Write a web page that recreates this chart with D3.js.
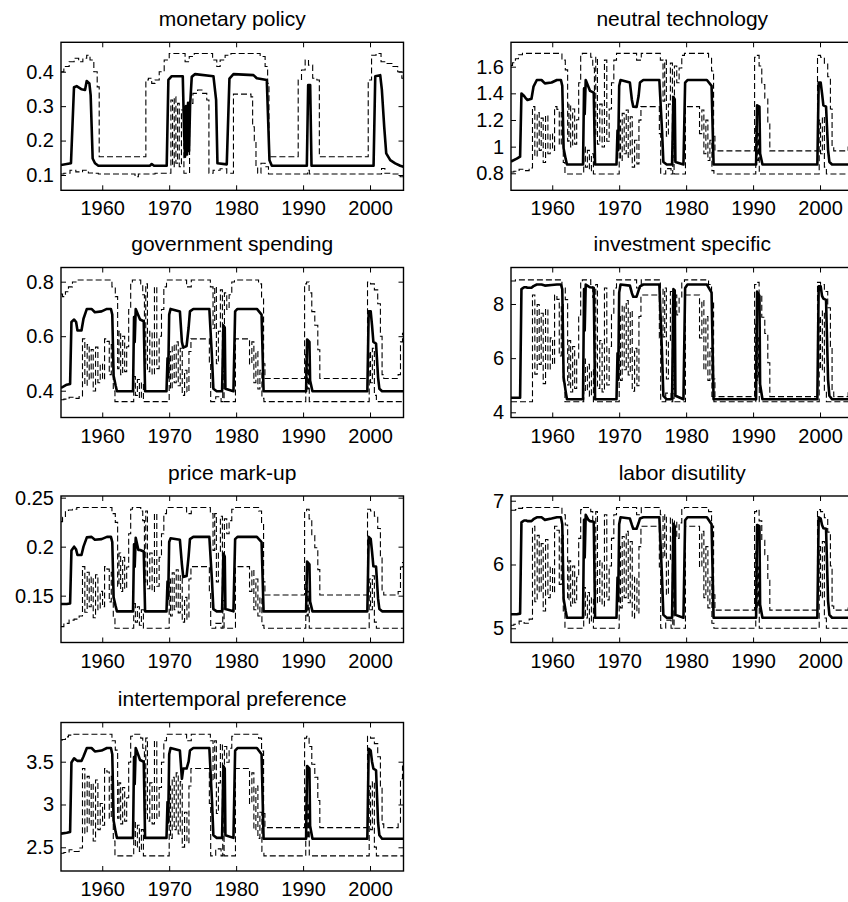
<!DOCTYPE html>
<html>
<head>
<meta charset="utf-8">
<script src="https://cdn.jsdelivr.net/npm/d3@7"></script>
<style>
  body { margin: 0; background: #fff; }
  svg text { font-family: Arial, "Liberation Sans", sans-serif; fill: #000; }
</style>
</head>
<body>
<svg id="chart" width="848" height="902"></svg>
<script>
// ---- data ----
var yearTicks = [1960, 1970, 1980, 1990, 2000];
var yearRange = [1953.84, 2005.0];

var monTicks = [0.1, 0.2, 0.3, 0.4];
var techTicks = [0.8, 1, 1.2, 1.4, 1.6];
var govTicks = [0.4, 0.6, 0.8];
var invTicks = [4, 6, 8];
var markTicks = [0.15, 0.2, 0.25];
var laborTicks = [5, 6, 7];
var prefTicks = [2.5, 3, 3.5];

// monetary policy has its own timing: [year, value]
var monMedian = [
  [1953.84,0.129],[1955.33,0.134],[1955.78,0.355],[1956.18,0.358],[1956.93,0.349],[1957.43,0.347],[1957.68,0.373],[1958.08,0.366],[1958.27,0.332],[1958.57,0.148],
  [1958.92,0.134],[1959.42,0.127],[1967.14,0.127],[1967.39,0.132],[1967.74,0.127],[1969.63,0.127],[1969.88,0.376],[1970.38,0.387],[1972.03,0.387],[1972.23,0.221],
  [1972.37,0.153],[1972.52,0.30],[1972.67,0.16],[1972.82,0.31],[1972.97,0.17],[1973.12,0.30],[1973.37,0.385],[1973.87,0.393],[1976.61,0.387],[1977.01,0.318],
  [1977.21,0.134],[1978.6,0.131],[1979.0,0.38],[1979.6,0.393],[1982.59,0.39],[1983.09,0.381],[1984.58,0.376],[1984.98,0.143],[1985.33,0.127],[1990.56,0.127],
  [1990.76,0.361],[1991.06,0.361],[1991.26,0.127],[2000.53,0.127],[2000.78,0.387],[2001.52,0.39],[2001.77,0.347],[2002.12,0.24],[2002.42,0.163],[2003.02,0.143],
  [2003.76,0.134],[2004.51,0.127],[2005.0,0.124]
];
var monUpper = [
  [1953.84,0.40],[1954.69,0.415],[1955.43,0.429],[1956.18,0.439],[1956.78,0.429],[1957.43,0.439],[1957.93,0.448],[1958.42,0.434],[1959.07,0.40],[1959.42,0.356],
  [1959.67,0.153],[1966.39,0.153],[1966.64,0.376],[1967.14,0.381],[1967.64,0.366],[1968.14,0.376],[1968.88,0.40],[1969.63,0.434],[1970.38,0.453],[1972.13,0.453],
  [1972.62,0.429],[1973.37,0.444],[1974.12,0.453],[1976.11,0.453],[1976.86,0.434],[1977.36,0.415],[1977.86,0.434],[1978.85,0.448],[1979.6,0.453],[1983.09,0.453],
  [1984.08,0.444],[1984.58,0.415],[1984.83,0.366],[1984.98,0.153],[1989.07,0.153],[1989.47,0.376],[1990.06,0.405],[1990.56,0.434],[1991.06,0.419],[1991.81,0.381],
  [1992.31,0.376],[1992.55,0.153],[1999.53,0.153],[1999.93,0.376],[2000.53,0.448],[2001.27,0.453],[2002.02,0.429],[2002.77,0.424],[2003.76,0.415],[2004.51,0.40],
  [2005.0,0.381]
];
var monLower = [
  [1953.84,0.103],[1954.69,0.105],[1955.68,0.114],[1956.43,0.109],[1957.68,0.114],[1958.18,0.106],[1959.17,0.105],[1959.67,0.103],[1964.65,0.103],[1965.15,0.095],
  [1965.64,0.103],[1970.13,0.105],[1970.38,0.318],[1970.63,0.124],[1970.88,0.327],[1971.13,0.134],[1971.38,0.308],[1971.63,0.124],[1972.03,0.289],[1972.37,0.105],
  [1972.87,0.105],[1973.22,0.308],[1973.87,0.337],[1974.62,0.347],[1975.37,0.337],[1975.86,0.318],[1976.01,0.105],[1977.11,0.114],[1978.1,0.118],[1979.1,0.105],
  [1979.5,0.105],[1979.7,0.335],[1982.09,0.335],[1982.34,0.327],[1982.59,0.24],[1982.84,0.20],[1983.09,0.124],[1983.34,0.105],[1984.08,0.134],[1984.58,0.124],
  [1985.08,0.103],[1990.56,0.103],[1990.81,0.114],[1991.06,0.103],[2001.52,0.103],[2001.92,0.119],[2002.52,0.105],[2004.01,0.103],[2005.0,0.095]
];

// the other six shocks share the same dates
var medYears = [
  1953.84, 1954.7, 1955.2, 1955.4, 1955.8, 1956.1, 1956.3, 1956.9, 1957.2, 1957.7,
  1958.4, 1958.9, 1959.9, 1960.7, 1961.3, 1961.5, 1961.7, 1962.0, 1962.2, 1964.6,
  1964.75, 1964.85, 1965.0, 1965.4, 1965.65, 1966.2, 1966.4, 1969.6, 1969.75, 1969.85,
  1970.0, 1970.2, 1971.6, 1971.9, 1972.1, 1972.6, 1972.9, 1973.1, 1973.6, 1976.0,
  1976.4, 1976.6, 1977.1, 1977.9, 1978.1, 1978.3, 1978.4, 1979.6, 1979.85, 1980.2,
  1983.1, 1983.8, 1984.1, 1990.45, 1990.6, 1990.95, 1991.05, 1991.4, 1999.6, 1999.8,
  2000.1, 2000.3, 2000.5, 2000.9, 2001.2, 2001.4, 2001.8, 2005.0
];
var upYears = [
  1953.84, 1954.3, 1954.7, 1955.2, 1955.9, 1956.5, 1961.2, 1961.7, 1962.2, 1962.4,
  1962.6, 1962.9, 1963.2, 1963.5, 1963.8, 1964.1, 1964.4, 1964.6, 1965.6, 1965.9,
  1966.2, 1966.4, 1966.6, 1966.9, 1967.3, 1967.6, 1968.0, 1968.3, 1968.7, 1969.0,
  1969.4, 1969.8, 1972.4, 1972.8, 1973.1, 1973.5, 1975.9, 1976.4, 1976.7, 1976.9,
  1977.2, 1977.5, 1977.8, 1978.1, 1978.4, 1978.8, 1979.1, 1979.6, 1979.9, 1983.1,
  1983.6, 1984.0, 1984.2, 1984.4, 1990.1, 1990.35, 1990.7, 1991.1, 1991.5, 1992.0,
  1992.4, 1992.6, 1999.5, 1999.75, 2000.4, 2000.9, 2001.4, 2001.7, 2001.9, 2002.2,
  2004.0, 2004.4, 2004.7, 2005.0
];
var loYears = [
  1953.84, 1954.7, 1955.4, 1956.2, 1956.9, 1957.2, 1957.6, 1957.9, 1958.2, 1958.5,
  1958.8, 1959.2, 1959.5, 1959.9, 1960.2, 1960.5, 1960.9, 1961.2, 1961.5, 1961.8,
  1962.0, 1964.6, 1964.8, 1965.1, 1965.4, 1965.7, 1966.0, 1966.3, 1969.9, 1970.1,
  1970.3, 1970.6, 1970.9, 1971.2, 1971.5, 1971.8, 1972.1, 1972.5, 1972.8, 1973.1,
  1973.4, 1975.9, 1976.1, 1976.3, 1977.6, 1977.9, 1978.1, 1978.3, 1979.8, 1980.0,
  1981.8, 1982.2, 1982.5, 1982.8, 1983.1, 1983.4, 1983.7, 1984.0, 1984.3, 1990.3,
  1990.5, 1990.7, 1990.85, 1991.0, 1999.8, 1999.95, 2000.2, 2000.5, 2000.8, 2001.1,
  2005.0
];

// neutral technology
var techMed = [
  0.888, 0.91, 0.925, 1.399, 1.38, 1.36, 1.35, 1.36, 1.45, 1.50,
  1.50, 1.475, 1.481, 1.50, 1.50, 1.456, 0.986, 0.91, 0.866, 0.866,
  1.437, 1.246, 1.50, 1.449, 1.418, 1.405, 0.866, 0.866, 1.12, 0.974,
  1.456, 1.50, 1.481, 1.35, 1.30, 1.297, 1.38, 1.481, 1.50, 1.50,
  1.12, 0.885, 0.866, 0.866, 1.373, 1.354, 0.885, 0.866, 1.481, 1.50,
  1.50, 1.456, 0.866, 0.866, 1.31, 1.30, 0.948, 0.866, 0.866, 1.481,
  1.481, 1.40, 1.31, 1.30, 0.974, 0.885, 0.866, 0.866
];
var techUp = [
  1.61, 1.63, 1.66, 1.69, 1.70, 1.70, 1.70, 1.649, 1.576, 1.041,
  1.319, 0.997, 1.283, 1.019, 1.202, 1.48, 1.685, 1.70, 1.70, 1.671,
  1.59, 1.078, 1.671, 1.019, 1.319, 0.997, 1.649, 1.041, 1.283, 1.48,
  1.649, 1.70, 1.70, 1.649, 1.649, 1.70, 1.70, 1.649, 1.341, 1.649,
  1.078, 1.319, 1.627, 1.019, 1.605, 1.48, 1.59, 1.685, 1.70, 1.70,
  1.671, 1.568, 1.078, 0.968, 0.968, 1.671, 1.685, 1.605, 1.466, 1.363,
  1.18, 0.968, 0.968, 1.685, 1.671, 1.627, 1.524, 1.283, 0.997, 0.968,
  0.968, 0.997, 1.239, 1.305
];
var techLo = [
  0.810, 0.815, 0.830, 0.820, 0.840, 1.30, 0.926, 1.255, 0.972, 1.214,
  0.881, 1.234, 0.947, 1.098, 0.972, 1.30, 1.28, 1.012, 1.255, 0.881,
  0.795, 0.795, 0.997, 0.846, 0.972, 0.820, 0.947, 0.795, 0.795, 1.199,
  0.896, 1.25, 0.947, 1.275, 0.921, 1.224, 0.846, 1.048, 0.871, 1.199,
  1.30, 1.30, 1.098, 0.795, 0.835, 0.795, 1.022, 0.795, 0.795, 1.30,
  1.30, 1.098, 1.275, 0.947, 1.199, 0.896, 1.048, 0.820, 0.795, 0.795,
  1.174, 0.896, 1.098, 0.795, 0.795, 1.199, 0.947, 1.224, 0.846, 0.795,
  0.795
];

// government spending
var govMed = [
  0.410, 0.422, 0.425, 0.652, 0.661, 0.652, 0.621, 0.621, 0.664, 0.700,
  0.700, 0.688, 0.691, 0.700, 0.700, 0.679, 0.455, 0.419, 0.398, 0.398,
  0.670, 0.579, 0.700, 0.676, 0.661, 0.655, 0.398, 0.398, 0.519, 0.449,
  0.679, 0.700, 0.691, 0.579, 0.558, 0.564, 0.631, 0.691, 0.700, 0.700,
  0.519, 0.407, 0.398, 0.398, 0.640, 0.631, 0.407, 0.398, 0.691, 0.700,
  0.700, 0.679, 0.398, 0.398, 0.588, 0.579, 0.437, 0.398, 0.398, 0.691,
  0.691, 0.640, 0.579, 0.573, 0.449, 0.407, 0.398, 0.398
];
var govUp = [
  0.755, 0.745, 0.763, 0.781, 0.799, 0.806, 0.806, 0.781, 0.745, 0.481,
  0.618, 0.459, 0.600, 0.470, 0.561, 0.698, 0.799, 0.806, 0.806, 0.792,
  0.752, 0.499, 0.792, 0.470, 0.618, 0.459, 0.781, 0.481, 0.600, 0.698,
  0.781, 0.806, 0.806, 0.781, 0.781, 0.806, 0.806, 0.781, 0.629, 0.781,
  0.499, 0.618, 0.770, 0.470, 0.759, 0.698, 0.752, 0.799, 0.806, 0.806,
  0.792, 0.741, 0.499, 0.445, 0.445, 0.792, 0.799, 0.759, 0.690, 0.640,
  0.550, 0.445, 0.445, 0.799, 0.792, 0.770, 0.719, 0.600, 0.459, 0.445,
  0.445, 0.459, 0.579, 0.611
];
var govLo = [
  0.367, 0.369, 0.376, 0.372, 0.381, 0.59, 0.420, 0.569, 0.441, 0.551,
  0.399, 0.560, 0.429, 0.498, 0.441, 0.59, 0.581, 0.459, 0.569, 0.399,
  0.36, 0.36, 0.452, 0.383, 0.441, 0.372, 0.429, 0.36, 0.36, 0.544,
  0.406, 0.567, 0.429, 0.579, 0.418, 0.556, 0.383, 0.475, 0.395, 0.544,
  0.59, 0.59, 0.498, 0.36, 0.378, 0.36, 0.464, 0.36, 0.36, 0.59,
  0.59, 0.498, 0.579, 0.429, 0.544, 0.406, 0.475, 0.372, 0.36, 0.36,
  0.533, 0.406, 0.498, 0.36, 0.36, 0.544, 0.429, 0.556, 0.383, 0.36,
  0.36
];

// investment specific
var invMed = [
  4.54, 4.54, 4.54, 8.55, 8.62, 8.62, 8.6, 8.6, 8.66, 8.72,
  8.72, 8.68, 8.70, 8.72, 8.72, 8.55, 5.29, 4.78, 4.48, 4.48,
  8.55, 7.02, 8.72, 8.65, 8.62, 8.6, 4.48, 4.48, 6.18, 5.20,
  8.42, 8.72, 8.68, 8.4, 8.27, 8.27, 8.5, 8.65, 8.72, 8.72,
  6.18, 4.61, 4.48, 4.48, 8.55, 8.5, 4.61, 4.48, 8.59, 8.72,
  8.72, 8.42, 4.48, 4.48, 8.46, 8.3, 5.03, 4.48, 4.48, 8.65,
  8.65, 8.3, 8.2, 8.15, 5.20, 4.61, 4.48, 4.48
];
var invUp = [
  8.85, 8.85, 8.89, 8.89, 8.89, 8.89, 8.89, 8.59, 8.16, 5.01,
  6.65, 4.75, 6.43, 4.88, 5.96, 7.60, 8.80, 8.89, 8.89, 8.72,
  8.24, 5.23, 8.72, 4.88, 6.65, 4.75, 8.59, 5.01, 6.43, 7.60,
  8.59, 8.89, 8.89, 8.59, 8.59, 8.89, 8.89, 8.59, 6.78, 8.59,
  5.23, 6.65, 8.46, 4.88, 8.33, 7.60, 8.24, 8.80, 8.89, 8.89,
  8.72, 8.11, 5.23, 4.58, 4.58, 8.72, 8.80, 8.33, 7.51, 6.91,
  5.83, 4.58, 4.58, 8.80, 8.72, 8.46, 7.86, 6.43, 4.75, 4.58,
  4.58, 4.75, 6.17, 6.56
];
var invLo = [
  4.39, 4.39, 4.39, 4.39, 4.39, 8.33, 5.41, 7.98, 5.77, 7.66,
  5.06, 7.82, 5.57, 6.75, 5.77, 8.33, 8.17, 6.08, 7.98, 5.06,
  4.39, 4.39, 5.97, 4.78, 5.77, 4.59, 5.57, 4.39, 4.39, 7.54,
  5.18, 7.94, 5.57, 8.13, 5.38, 7.74, 4.78, 6.36, 4.98, 7.54,
  8.33, 8.33, 6.75, 4.39, 4.71, 4.39, 6.16, 4.39, 4.39, 8.33,
  8.33, 6.75, 8.13, 5.57, 7.54, 5.18, 6.36, 4.59, 4.39, 4.39,
  7.35, 5.18, 6.75, 4.39, 4.39, 7.54, 5.57, 7.74, 4.78, 4.39,
  4.39
];

// price mark-up
var markMed = [
  0.1415, 0.1415, 0.142, 0.196, 0.20, 0.197, 0.1915, 0.1915, 0.200, 0.2095,
  0.210, 0.207, 0.2077, 0.210, 0.210, 0.2047, 0.1484, 0.1393, 0.134, 0.134,
  0.2024, 0.1796, 0.209, 0.1966, 0.1966, 0.195, 0.134, 0.134, 0.1644, 0.1469,
  0.2047, 0.2085, 0.207, 0.182, 0.169, 0.170, 0.19, 0.2077, 0.210, 0.210,
  0.1644, 0.1363, 0.134, 0.134, 0.193, 0.19, 0.1363, 0.134, 0.2077, 0.210,
  0.210, 0.2047, 0.134, 0.134, 0.1847, 0.182, 0.1439, 0.134, 0.134, 0.210,
  0.208, 0.195, 0.18, 0.1796, 0.1469, 0.1363, 0.134, 0.134
];
var markUp = [
  0.2255, 0.2300, 0.2357, 0.2374, 0.2382, 0.240, 0.240, 0.2337, 0.2248, 0.1596,
  0.1936, 0.1543, 0.1891, 0.1570, 0.1793, 0.2132, 0.2382, 0.240, 0.240, 0.2364,
  0.2266, 0.1641, 0.2364, 0.1570, 0.1936, 0.1543, 0.2337, 0.1596, 0.1891, 0.2132,
  0.2337, 0.240, 0.240, 0.2337, 0.2337, 0.240, 0.240, 0.2337, 0.1962, 0.2337,
  0.1641, 0.1936, 0.2311, 0.1570, 0.2284, 0.2132, 0.2266, 0.2382, 0.240, 0.240,
  0.2364, 0.2239, 0.1641, 0.1507, 0.1507, 0.2364, 0.2382, 0.2284, 0.2114, 0.1989,
  0.1766, 0.1507, 0.1507, 0.2382, 0.2364, 0.2311, 0.2186, 0.1891, 0.1543, 0.1507,
  0.1507, 0.1543, 0.1793, 0.1837
];
var markLo = [
  0.1184, 0.1217, 0.1250, 0.1261, 0.1293, 0.1796, 0.1331, 0.1739, 0.1387, 0.1689,
  0.1274, 0.1714, 0.1356, 0.1544, 0.1387, 0.1796, 0.1771, 0.1437, 0.1739, 0.1274,
  0.1167, 0.1167, 0.1419, 0.1230, 0.1387, 0.1198, 0.1356, 0.1167, 0.1167, 0.1670,
  0.1293, 0.1733, 0.1356, 0.1765, 0.1324, 0.1702, 0.1230, 0.1482, 0.1261, 0.1670,
  0.1796, 0.1796, 0.1544, 0.1167, 0.1217, 0.1167, 0.1450, 0.1167, 0.1167, 0.1796,
  0.1796, 0.1544, 0.1765, 0.1356, 0.1670, 0.1293, 0.1482, 0.1198, 0.1167, 0.1167,
  0.1639, 0.1293, 0.1544, 0.1167, 0.1167, 0.1670, 0.1356, 0.1702, 0.1230, 0.1167,
  0.1167
];

// labor disutility
var laborMed = [
  5.22, 5.22, 5.23, 6.66, 6.69, 6.69, 6.68, 6.68, 6.71, 6.74,
  6.74, 6.70, 6.72, 6.74, 6.74, 6.63, 5.464, 5.275, 5.165, 5.165,
  6.70, 6.11, 6.78, 6.70, 6.68, 6.67, 5.165, 5.165, 5.795, 5.43,
  6.63, 6.74, 6.72, 6.62, 6.56, 6.56, 6.65, 6.72, 6.74, 6.74,
  5.795, 5.21, 5.165, 5.165, 6.64, 6.6, 5.21, 5.165, 6.693, 6.74,
  6.74, 6.63, 5.165, 5.165, 6.62, 6.6, 5.37, 5.165, 5.165, 6.74,
  6.72, 6.62, 6.57, 6.56, 5.43, 5.21, 5.165, 5.165
];
var laborUp = [
  6.85, 6.85, 6.86, 6.88, 6.893, 6.893, 6.893, 6.78, 6.62, 5.446,
  6.057, 5.35, 5.976, 5.40, 5.80, 6.41, 6.861, 6.893, 6.893, 6.829,
  6.652, 5.526, 6.829, 5.40, 6.057, 5.35, 6.78, 5.446, 5.976, 6.41,
  6.78, 6.893, 6.893, 6.78, 6.78, 6.893, 6.893, 6.78, 6.105, 6.78,
  5.526, 6.057, 6.732, 5.40, 6.684, 6.41, 6.652, 6.861, 6.893, 6.893,
  6.829, 6.604, 5.526, 5.285, 5.285, 6.829, 6.861, 6.684, 6.378, 6.153,
  5.751, 5.285, 5.285, 6.861, 6.829, 6.732, 6.507, 5.976, 5.35, 5.285,
  5.285, 5.35, 5.88, 6.025
];
var laborLo = [
  5.048, 5.064, 5.112, 5.08, 5.144, 6.60, 5.416, 6.456, 5.56, 6.328,
  5.272, 6.392, 5.48, 5.96, 5.56, 6.60, 6.536, 5.688, 6.456, 5.272,
  5.0, 5.0, 5.64, 5.16, 5.56, 5.08, 5.48, 5.0, 5.0, 6.28,
  5.32, 6.44, 5.48, 6.52, 5.40, 6.36, 5.16, 5.80, 5.24, 6.28,
  6.60, 6.60, 5.96, 5.0, 5.128, 5.0, 5.72, 5.0, 5.0, 6.60,
  6.60, 5.96, 6.52, 5.48, 6.28, 5.32, 5.80, 5.08, 5.0, 5.0,
  6.20, 5.32, 5.96, 5.0, 5.0, 6.28, 5.48, 6.36, 5.16, 5.0,
  5.0
];

// intertemporal preference
var prefMed = [
  2.66, 2.67, 2.68, 3.49, 3.54, 3.52, 3.51, 3.51, 3.56, 3.66,
  3.66, 3.62, 3.63, 3.66, 3.66, 3.587, 2.81, 2.68, 2.61, 2.61,
  3.555, 3.24, 3.66, 3.576, 3.52, 3.50, 2.61, 2.61, 3.03, 2.79,
  3.587, 3.66, 3.63, 3.3, 3.42, 3.42, 3.5, 3.63, 3.66, 3.66,
  3.03, 2.64, 2.61, 2.61, 3.45, 3.42, 2.64, 2.61, 3.63, 3.66,
  3.66, 3.587, 2.60, 2.60, 3.45, 3.42, 2.75, 2.60, 2.60, 3.65,
  3.63, 3.5, 3.42, 3.40, 2.79, 2.64, 2.60, 2.60
];
var prefUp = [
  3.755, 3.76, 3.79, 3.81, 3.82, 3.82, 3.82, 3.744, 3.635, 2.839,
  3.253, 2.774, 3.199, 2.806, 3.079, 3.493, 3.798, 3.82, 3.82, 3.776,
  3.657, 2.894, 3.776, 2.806, 3.253, 2.774, 3.744, 2.839, 3.199, 3.493,
  3.744, 3.82, 3.82, 3.744, 3.744, 3.82, 3.82, 3.744, 3.286, 3.744,
  2.894, 3.253, 3.711, 2.806, 3.678, 3.493, 3.657, 3.798, 3.82, 3.82,
  3.776, 3.624, 2.894, 2.73, 2.73, 3.776, 3.798, 3.678, 3.471, 3.319,
  3.046, 2.73, 2.73, 3.798, 3.776, 3.711, 3.558, 3.199, 2.774, 2.73,
  2.73, 2.774, 3.30, 3.45
];
var prefLo = [
  2.43, 2.44, 2.471, 2.451, 2.492, 3.42, 2.665, 3.328, 2.757, 3.247,
  2.573, 3.287, 2.706, 3.012, 2.757, 3.42, 3.379, 2.839, 3.328, 2.573,
  2.40, 2.40, 2.808, 2.502, 2.757, 2.451, 2.706, 2.40, 2.40, 3.216,
  2.604, 3.318, 2.706, 3.369, 2.655, 3.267, 2.502, 2.91, 2.553, 3.216,
  3.42, 3.42, 3.012, 2.40, 2.482, 2.40, 2.859, 2.40, 2.40, 3.42,
  3.42, 3.012, 3.369, 2.706, 3.216, 2.604, 2.91, 2.451, 2.40, 2.40,
  3.165, 2.604, 3.012, 2.40, 2.40, 3.216, 2.706, 3.267, 2.502, 2.40,
  2.40
];

// ---- layout ----
var colLeft = [61, 511];
var boxW = 342.5;
var rowTop = [42.3, 267.5, 496, 722.5];
var rowBottom = [190.3, 417.5, 642.5, 871];

var panels = [
  {title: 'monetary policy', col: 0, row: 0, yDom: [0.0556, 0.4854], ticks: monTicks,
    median: monMedian, upper: monUpper, lower: monLower},
  {title: 'neutral technology', col: 1, row: 0, yDom: [0.6724, 1.783], ticks: techTicks,
    median: d3.zip(medYears, techMed), upper: d3.zip(upYears, techUp), lower: d3.zip(loYears, techLo)},
  {title: 'government spending', col: 0, row: 1, yDom: [0.3017, 0.852], ticks: govTicks,
    median: d3.zip(medYears, govMed), upper: d3.zip(upYears, govUp), lower: d3.zip(loYears, govLo)},
  {title: 'investment specific', col: 1, row: 1, yDom: [3.808, 9.348], ticks: invTicks,
    median: d3.zip(medYears, invMed), upper: d3.zip(upYears, invUp), lower: d3.zip(loYears, invLo)},
  {title: 'price mark-up', col: 0, row: 2, yDom: [0.1022, 0.2517], ticks: markTicks,
    median: d3.zip(medYears, markMed), upper: d3.zip(upYears, markUp), lower: d3.zip(loYears, markLo)},
  {title: 'labor disutility', col: 1, row: 2, yDom: [4.777, 7.074], ticks: laborTicks,
    median: d3.zip(medYears, laborMed), upper: d3.zip(upYears, laborUp), lower: d3.zip(loYears, laborLo)},
  {title: 'intertemporal preference', col: 0, row: 3, yDom: [2.223, 3.958], ticks: prefTicks,
    median: d3.zip(medYears, prefMed), upper: d3.zip(upYears, prefUp), lower: d3.zip(loYears, prefLo)}
];

var svg = d3.select('#chart');
var fontFam = 'Arial, "Liberation Sans", sans-serif';

panels.forEach(function(p, i) {
  var left = colLeft[p.col], top = rowTop[p.row];
  var h = rowBottom[p.row] - top;

  var x = d3.scaleLinear().domain(yearRange).range([0, boxW]);
  var y = d3.scaleLinear().domain(p.yDom).range([h, 0]);

  var g = svg.append('g').attr('transform', 'translate(' + left + ',' + top + ')');

  g.append('clipPath').attr('id', 'clip' + i)
    .append('rect').attr('width', boxW).attr('height', h);

  var line = d3.line()
    .x(function(d) { return x(d[0]); })
    .y(function(d) { return y(d[1]); });
  // bands jump between quarters, so draw them as steps (gives the vertical dashed columns)
  var bandLine = d3.line()
    .curve(d3.curveStep)
    .x(function(d) { return x(d[0]); })
    .y(function(d) { return y(d[1]); });

  var plot = g.append('g').attr('clip-path', 'url(#clip' + i + ')');

  [p.lower, p.upper].forEach(function(s) {
    plot.append('path')
      .datum(s)
      .attr('d', bandLine)
      .attr('fill', 'none')
      .attr('stroke', '#000')
      .attr('stroke-width', 1.1)
      .attr('stroke-dasharray', '6,3');
  });

  plot.append('path')
    .datum(p.median)
    .attr('d', line)
    .attr('fill', 'none')
    .attr('stroke', '#000')
    .attr('stroke-width', 2.6)
    .attr('stroke-linejoin', 'round');

  // axes with inward ticks on all four sides
  function tidy(a) {
    a.select('.domain').remove();
    a.selectAll('.tick line').attr('stroke', '#000').attr('stroke-width', 1);
    a.attr('font-size', 20).attr('font-family', fontFam);
  }
  g.append('g').attr('transform', 'translate(0,' + h + ')')
    .call(d3.axisBottom(x).tickValues(yearTicks).tickFormat(d3.format('d'))
      .tickSizeInner(-5).tickSizeOuter(0).tickPadding(11))
    .call(tidy);
  g.append('g')
    .call(d3.axisTop(x).tickValues(yearTicks).tickFormat('').tickSizeInner(-5).tickSizeOuter(0))
    .call(tidy);
  g.append('g')
    .call(d3.axisLeft(y).tickValues(p.ticks).tickFormat(function(d) { return String(d); })
      .tickSizeInner(-5).tickSizeOuter(0).tickPadding(7))
    .call(tidy);
  g.append('g').attr('transform', 'translate(' + boxW + ',0)')
    .call(d3.axisRight(y).tickValues(p.ticks).tickFormat('').tickSizeInner(-5).tickSizeOuter(0))
    .call(tidy);

  g.append('rect')
    .attr('width', boxW).attr('height', h)
    .attr('fill', 'none').attr('stroke', '#000').attr('stroke-width', 1.4);

  g.append('text')
    .attr('x', boxW / 2).attr('y', -16.5)
    .attr('text-anchor', 'middle')
    .attr('font-size', 21)
    .text(p.title);
});
</script>
</body>
</html>
